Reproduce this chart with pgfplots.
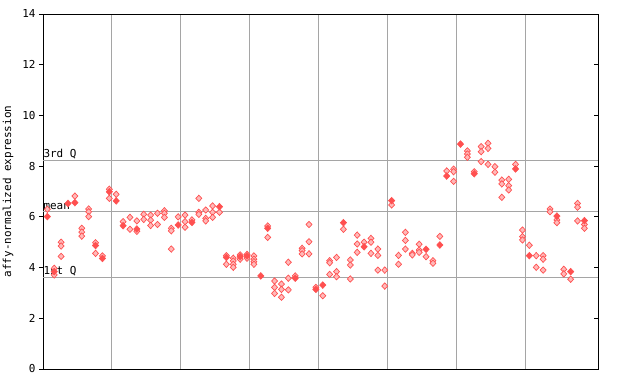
\documentclass[border=0pt]{standalone}
\usepackage{pgfplots}
\pgfplotsset{compat=1.18}
\usepackage{pgfplotstable}
\usepackage{fontspec}
\setmainfont{DejaVu Sans Mono}
\definecolor{ptred}{RGB}{255,80,80}
\definecolor{gridgray}{RGB}{165,165,165}

\pgfplotstableread{
x y
0.63 6.30
1.63 3.97
1.63 3.71
2.63 5.00
2.63 4.85
2.63 4.44
4.63 6.82
5.63 5.55
5.63 5.40
5.63 5.24
6.63 6.31
6.63 6.20
6.63 6.01
7.63 4.98
7.63 4.56
8.63 4.46
9.63 7.09
9.63 6.73
10.63 6.89
11.63 5.81
12.63 5.98
12.63 5.51
13.63 5.84
13.63 5.43
14.63 6.10
14.63 5.90
15.63 6.07
15.63 5.87
15.63 5.66
16.63 6.14
16.63 5.70
17.63 6.24
17.63 6.14
17.63 5.98
18.63 5.55
18.63 5.45
18.63 4.73
19.63 6.00
20.63 6.07
20.63 5.81
20.63 5.59
21.63 5.88
22.63 6.73
22.63 6.18
22.63 6.10
23.63 6.27
23.63 5.94
23.63 5.84
24.63 6.43
24.63 6.18
24.63 5.98
25.63 6.18
26.63 4.47
26.63 4.13
27.63 4.37
27.63 4.26
27.63 4.13
27.63 4.01
28.63 4.50
28.63 4.33
29.63 4.52
29.63 4.37
30.63 4.46
30.63 4.33
30.63 4.23
30.63 4.13
32.63 5.64
32.63 5.19
33.63 3.47
33.63 3.22
33.63 2.98
34.63 3.35
34.63 3.14
34.63 2.83
35.63 4.21
35.63 3.58
35.63 3.12
36.63 3.67
37.63 4.76
37.63 4.67
37.63 4.54
38.63 5.70
38.63 5.02
38.63 4.54
39.63 3.22
40.63 2.89
41.63 4.27
41.63 4.19
41.63 3.73
42.63 4.40
42.63 3.84
42.63 3.64
43.63 5.51
44.63 4.30
44.63 4.10
44.63 3.55
45.63 5.28
45.63 4.93
45.63 4.60
46.63 5.00
47.63 5.15
47.63 5.00
47.63 4.56
48.63 4.73
48.63 4.48
48.63 3.90
49.63 3.90
49.63 3.27
50.63 6.47
51.63 4.48
51.63 4.13
52.63 5.39
52.63 5.07
52.63 4.73
53.63 4.56
53.63 4.50
54.63 4.92
54.63 4.69
54.63 4.60
55.63 4.43
56.63 4.27
56.63 4.17
57.63 5.23
58.63 7.81
59.63 7.88
59.63 7.78
59.63 7.40
61.63 8.60
61.63 8.48
61.63 8.35
62.63 7.78
63.63 8.77
63.63 8.57
63.63 8.18
64.63 8.90
64.63 8.70
64.63 8.07
65.63 7.98
65.63 7.76
66.63 7.45
66.63 7.30
66.63 6.77
67.63 7.48
67.63 7.23
67.63 7.06
68.63 8.07
69.63 5.48
69.63 5.22
69.63 5.09
70.63 4.88
71.63 4.47
71.63 4.01
72.63 4.47
72.63 4.33
72.63 3.90
73.63 6.31
73.63 6.20
74.63 5.88
74.63 5.77
75.63 3.93
75.63 3.75
76.63 3.54
77.63 6.53
77.63 6.38
77.63 5.84
78.63 5.70
78.63 5.55
}\opentable

\pgfplotstableread{
x y
0.63 6.01
1.63 3.84
3.63 6.53
4.63 6.56
7.63 4.87
8.63 4.36
9.63 6.99
10.63 6.63
11.63 5.65
13.63 5.52
19.63 5.68
21.63 5.78
25.63 6.40
26.63 4.40
28.63 4.43
29.63 4.46
31.63 3.67
32.63 5.55
36.63 3.58
39.63 3.14
40.63 3.31
43.63 5.77
46.63 4.82
50.63 6.64
55.63 4.72
57.63 4.89
58.63 7.61
60.63 8.87
62.63 7.70
68.63 7.89
70.63 4.47
74.63 6.03
76.63 3.84
78.63 5.85
}\filledtable

\begin{document}
\begin{tikzpicture}
\useasboundingbox (0,0) rectangle (640bp,384bp);
\begin{axis}[
  at={(43bp,15bp)}, anchor=south west,
  scale only axis, width=555bp, height=355bp,
  xmin=0, xmax=80.6, ymin=0, ymax=14,
  axis line style={black, line width=0.8bp},
  xtick={10,20,...,70}, xticklabels={},
  major x tick style={draw=none},
  xmajorgrids,
  ytick={0,2,...,14},
  ytick pos=left, tick align=outside,
  major tick length=4bp,
  major y tick style={black, line width=0.8bp},
  extra y ticks={3.62,6.23,8.23},
  extra y tick labels={},
  extra y tick style={ymajorgrids, major tick length=0pt},
  grid style={gridgray, line width=0.8bp},
  every tick label/.append style={font=\fontsize{11}{12}\selectfont},
  /pgf/number format/assume math mode=true,
  ylabel={affy-normalized expression},
  ylabel style={font=\fontsize{11}{12}\selectfont, yshift=-2bp},
  clip=false,
]
\node[anchor=south west, inner sep=0pt, font=\fontsize{11}{12}\selectfont] at (axis cs:0.05,8.27) {3rd Q};
\node[anchor=south west, inner sep=0pt, font=\fontsize{11}{12}\selectfont] at (axis cs:0.05,6.27) {mean};
\node[anchor=south west, inner sep=0pt, font=\fontsize{11}{12}\selectfont] at (axis cs:0.05,3.66) {1st Q};
\addplot[only marks, mark=diamond*, mark size=3.2bp,
  mark options={xscale=1.25, fill=ptred!40!white, draw=ptred, line width=0.7bp}]
  table[x=x, y=y] {\opentable};
\addplot[only marks, mark=diamond*, mark size=3.4bp,
  mark options={xscale=1.25, fill=ptred, draw=ptred, line width=0.5bp}]
  table[x=x, y=y] {\filledtable};
\end{axis}
\begin{axis}[
  at={(43bp,15bp)}, anchor=south west,
  scale only axis, width=555bp, height=355bp,
  xmin=0, xmax=80.6, ymin=0, ymax=14,
  axis line style={draw=none},
  xtick=\empty, ytick={0,2,...,14}, yticklabels={},
  ytick pos=right, tick align=inside,
  major tick length=4bp,
  major y tick style={black, line width=0.8bp},
]
\end{axis}
\end{tikzpicture}
\end{document}
